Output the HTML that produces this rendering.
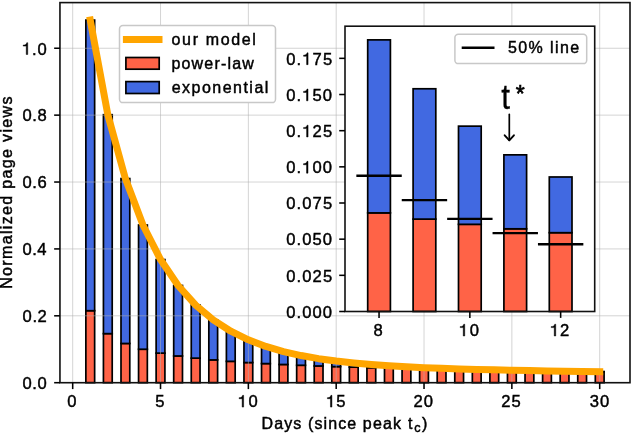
<!DOCTYPE html>
<html><head><meta charset="utf-8"><title>chart</title>
<style>html,body{margin:0;padding:0;background:#fff}body{width:632px;height:433px;overflow:hidden}</style></head>
<body>
<svg width="632" height="433" viewBox="0 0 632 433" style="display:block;will-change:transform">
<rect width="632" height="433" fill="#fff"/>
<g stroke="#000" stroke-width="1.7" stroke-linejoin="miter">
<rect x="85.86" y="310.69" width="8.78" height="72.01" fill="#ff6347"/>
<rect x="85.86" y="20.09" width="8.78" height="290.60" fill="#4169e1"/>
<rect x="103.43" y="333.62" width="8.78" height="49.08" fill="#ff6347"/>
<rect x="103.43" y="114.71" width="8.78" height="218.91" fill="#4169e1"/>
<rect x="121.00" y="343.48" width="8.78" height="39.22" fill="#ff6347"/>
<rect x="121.00" y="178.57" width="8.78" height="164.90" fill="#4169e1"/>
<rect x="138.56" y="349.25" width="8.78" height="33.45" fill="#ff6347"/>
<rect x="138.56" y="225.03" width="8.78" height="124.22" fill="#4169e1"/>
<rect x="156.13" y="353.13" width="8.78" height="29.57" fill="#ff6347"/>
<rect x="156.13" y="259.56" width="8.78" height="93.57" fill="#4169e1"/>
<rect x="173.70" y="355.97" width="8.78" height="26.73" fill="#ff6347"/>
<rect x="173.70" y="285.48" width="8.78" height="70.49" fill="#4169e1"/>
<rect x="191.26" y="358.15" width="8.78" height="24.55" fill="#ff6347"/>
<rect x="191.26" y="305.05" width="8.78" height="53.10" fill="#4169e1"/>
<rect x="208.83" y="359.90" width="8.78" height="22.80" fill="#ff6347"/>
<rect x="208.83" y="319.90" width="8.78" height="40.00" fill="#4169e1"/>
<rect x="226.40" y="361.34" width="8.78" height="21.36" fill="#ff6347"/>
<rect x="226.40" y="331.21" width="8.78" height="30.13" fill="#4169e1"/>
<rect x="243.96" y="362.55" width="8.78" height="20.15" fill="#ff6347"/>
<rect x="243.96" y="339.85" width="8.78" height="22.70" fill="#4169e1"/>
<rect x="261.53" y="363.58" width="8.78" height="19.12" fill="#ff6347"/>
<rect x="261.53" y="346.48" width="8.78" height="17.10" fill="#4169e1"/>
<rect x="279.10" y="364.48" width="8.78" height="18.22" fill="#ff6347"/>
<rect x="279.10" y="351.60" width="8.78" height="12.88" fill="#4169e1"/>
<rect x="296.67" y="365.27" width="8.78" height="17.43" fill="#ff6347"/>
<rect x="296.67" y="355.57" width="8.78" height="9.70" fill="#4169e1"/>
<rect x="314.23" y="365.97" width="8.78" height="16.73" fill="#ff6347"/>
<rect x="314.23" y="358.66" width="8.78" height="7.31" fill="#4169e1"/>
<rect x="331.80" y="366.59" width="8.78" height="16.11" fill="#ff6347"/>
<rect x="331.80" y="361.09" width="8.78" height="5.51" fill="#4169e1"/>
<rect x="349.37" y="367.16" width="8.78" height="15.54" fill="#ff6347"/>
<rect x="349.37" y="363.01" width="8.78" height="4.15" fill="#4169e1"/>
<rect x="366.93" y="367.67" width="8.78" height="15.03" fill="#ff6347"/>
<rect x="366.93" y="364.55" width="8.78" height="3.12" fill="#4169e1"/>
<rect x="384.50" y="368.14" width="8.78" height="14.56" fill="#ff6347"/>
<rect x="384.50" y="365.78" width="8.78" height="2.35" fill="#4169e1"/>
<rect x="402.07" y="368.57" width="8.78" height="14.13" fill="#ff6347"/>
<rect x="402.07" y="366.79" width="8.78" height="1.77" fill="#4169e1"/>
<rect x="419.63" y="368.96" width="8.78" height="13.74" fill="#ff6347"/>
<rect x="419.63" y="367.63" width="8.78" height="1.34" fill="#4169e1"/>
<rect x="437.20" y="369.33" width="8.78" height="13.37" fill="#ff6347"/>
<rect x="437.20" y="368.32" width="8.78" height="1.01" fill="#4169e1"/>
<rect x="454.77" y="369.67" width="8.78" height="13.03" fill="#ff6347"/>
<rect x="454.77" y="368.91" width="8.78" height="0.76" fill="#4169e1"/>
<rect x="472.34" y="369.98" width="8.78" height="12.72" fill="#ff6347"/>
<rect x="472.34" y="369.41" width="8.78" height="0.57" fill="#4169e1"/>
<rect x="489.90" y="370.28" width="8.78" height="12.42" fill="#ff6347"/>
<rect x="489.90" y="369.85" width="8.78" height="0.43" fill="#4169e1"/>
<rect x="507.47" y="370.56" width="8.78" height="12.14" fill="#ff6347"/>
<rect x="507.47" y="370.23" width="8.78" height="0.32" fill="#4169e1"/>
<rect x="525.04" y="370.82" width="8.78" height="11.88" fill="#ff6347"/>
<rect x="525.04" y="370.57" width="8.78" height="0.24" fill="#4169e1"/>
<rect x="542.60" y="371.06" width="8.78" height="11.64" fill="#ff6347"/>
<rect x="542.60" y="370.88" width="8.78" height="0.18" fill="#4169e1"/>
<rect x="560.17" y="371.29" width="8.78" height="11.41" fill="#ff6347"/>
<rect x="560.17" y="371.16" width="8.78" height="0.14" fill="#4169e1"/>
<rect x="577.74" y="371.51" width="8.78" height="11.19" fill="#ff6347"/>
<rect x="577.74" y="371.41" width="8.78" height="0.10" fill="#4169e1"/>
<rect x="595.31" y="371.72" width="8.78" height="10.98" fill="#ff6347"/>
<rect x="595.31" y="371.64" width="8.78" height="0.08" fill="#4169e1"/>
</g>
<g stroke="#b0b0b0" stroke-opacity="0.64" stroke-width="0.85">
<line x1="72.69" x2="72.69" y1="2.6" y2="382.7"/>
<line x1="160.52" x2="160.52" y1="2.6" y2="382.7"/>
<line x1="248.36" x2="248.36" y1="2.6" y2="382.7"/>
<line x1="336.19" x2="336.19" y1="2.6" y2="382.7"/>
<line x1="424.03" x2="424.03" y1="2.6" y2="382.7"/>
<line x1="511.86" x2="511.86" y1="2.6" y2="382.7"/>
<line x1="599.70" x2="599.70" y1="2.6" y2="382.7"/>
<line x1="59.95" x2="630.0" y1="382.70" y2="382.70"/>
<line x1="59.95" x2="630.0" y1="315.81" y2="315.81"/>
<line x1="59.95" x2="630.0" y1="248.92" y2="248.92"/>
<line x1="59.95" x2="630.0" y1="182.03" y2="182.03"/>
<line x1="59.95" x2="630.0" y1="115.14" y2="115.14"/>
<line x1="59.95" x2="630.0" y1="48.25" y2="48.25"/>
</g>
<polyline points="90.25,20.09 107.82,114.71 125.39,178.57 142.95,225.03 160.52,259.56 178.09,285.48 195.66,305.05 213.22,319.90 230.79,331.21 248.36,339.85 265.92,346.48 283.49,351.60 301.06,355.57 318.62,358.66 336.19,361.09 353.76,363.01 371.33,364.55 388.89,365.78 406.46,366.79 424.03,367.63 441.59,368.32 459.16,368.91 476.73,369.41 494.29,369.85 511.86,370.23 529.43,370.57 547.00,370.88 564.56,371.16 582.13,371.41 599.70,371.64" fill="none" stroke="#ffa500" stroke-width="7" stroke-linecap="square" stroke-linejoin="round"/>
<rect x="59.95" y="2.6" width="570.05" height="380.09999999999997" fill="none" stroke="#111" stroke-width="1.6"/>
<g stroke="#000" stroke-width="1.55">
<line x1="72.69" x2="72.69" y1="382.7" y2="389.1"/>
<line x1="160.52" x2="160.52" y1="382.7" y2="389.1"/>
<line x1="248.36" x2="248.36" y1="382.7" y2="389.1"/>
<line x1="336.19" x2="336.19" y1="382.7" y2="389.1"/>
<line x1="424.03" x2="424.03" y1="382.7" y2="389.1"/>
<line x1="511.86" x2="511.86" y1="382.7" y2="389.1"/>
<line x1="599.70" x2="599.70" y1="382.7" y2="389.1"/>
<line x1="54.150000000000006" x2="59.95" y1="382.70" y2="382.70"/>
<line x1="54.150000000000006" x2="59.95" y1="315.81" y2="315.81"/>
<line x1="54.150000000000006" x2="59.95" y1="248.92" y2="248.92"/>
<line x1="54.150000000000006" x2="59.95" y1="182.03" y2="182.03"/>
<line x1="54.150000000000006" x2="59.95" y1="115.14" y2="115.14"/>
<line x1="54.150000000000006" x2="59.95" y1="48.25" y2="48.25"/>
</g>
<g style="font-family:'Liberation Sans',sans-serif;font-size:16px;fill:#000;stroke:#000;stroke-width:0.45px">
<text x="22.62" y="388.95" style="font-size:16.6px;letter-spacing:0.475px">0.0</text>
<text x="22.62" y="322.06" style="font-size:16.6px;letter-spacing:0.538px">0.2</text>
<text x="22.62" y="255.17" style="font-size:16.6px;letter-spacing:0.350px">0.4</text>
<text x="22.62" y="188.28" style="font-size:16.6px;letter-spacing:0.475px">0.6</text>
<text x="22.62" y="121.39" style="font-size:16.6px;letter-spacing:0.475px">0.8</text>
<text x="21.96" y="54.50" style="font-size:16.6px;letter-spacing:0.806px"><tspan style="fill:none;stroke:none">1</tspan>.0</text>
<path d="M4.144 -8.08 L4.144 0 L5.552 0 L5.552 -11.344 L4.624 -11.344 C4.128 -9.6 3.6 -9.3 1.2 -9.088 L1.2 -8.08 Z" transform="translate(21.96,54.50) scale(1.0375)"/>
<text x="67.31" y="407.10" style="font-size:16.6px;letter-spacing:0.000px">0</text>
<text x="155.14" y="407.10" style="font-size:16.6px;letter-spacing:0.000px">5</text>
<text x="237.86" y="407.10" style="font-size:16.6px;letter-spacing:1.337px"><tspan style="fill:none;stroke:none">1</tspan>0</text>
<path d="M4.144 -8.08 L4.144 0 L5.552 0 L5.552 -11.344 L4.624 -11.344 C4.128 -9.6 3.6 -9.3 1.2 -9.088 L1.2 -8.08 Z" transform="translate(237.86,407.10) scale(1.0375)"/>
<text x="326.16" y="407.10" style="font-size:16.6px;letter-spacing:0.737px"><tspan style="fill:none;stroke:none">1</tspan>5</text>
<path d="M4.144 -8.08 L4.144 0 L5.552 0 L5.552 -11.344 L4.624 -11.344 C4.128 -9.6 3.6 -9.3 1.2 -9.088 L1.2 -8.08 Z" transform="translate(326.16,407.10) scale(1.0375)"/>
<text x="413.38" y="407.10" style="font-size:16.6px;letter-spacing:1.125px">20</text>
<text x="501.18" y="407.10" style="font-size:16.6px;letter-spacing:1.125px">25</text>
<text x="589.83" y="407.10" style="font-size:16.6px;letter-spacing:0.975px">30</text>
<text x="261.57" y="428.60" style="letter-spacing:1.107px">Days (since peak</text>
<text x="407.95" y="428.60" style="letter-spacing:0.000px">t</text>
<text x="422.04" y="428.60" style="letter-spacing:0.000px">)</text>
<text x="414.3" y="432.1" style="font-size:12.6px">c</text>
<text transform="translate(12.0,288.80) rotate(-90)" style="letter-spacing:1.341px">Normalized page views</text>
</g>
<rect x="119.5" y="25.6" width="156.0" height="77.0" rx="3.4" fill="#fff" stroke="#c8c8c8" stroke-width="1.5"/>
<line x1="126.3" x2="159.1" y1="39.5" y2="39.5" stroke="#ffa500" stroke-width="6.8" stroke-linecap="square"/>
<rect x="125.9" y="57.5" width="33.3" height="11.7" fill="#ff6347" stroke="#000" stroke-width="1.7"/>
<rect x="125.9" y="81.6" width="33.3" height="11.9" fill="#4169e1" stroke="#000" stroke-width="1.7"/>
<g style="font-family:'Liberation Sans',sans-serif;font-size:16px;fill:#000;stroke:#000;stroke-width:0.45px">
<text x="171.60" y="45.10" style="letter-spacing:1.631px">our model</text>
<text x="171.45" y="69.00" style="letter-spacing:1.188px">power-law</text>
<text x="171.70" y="92.70" style="letter-spacing:1.480px">exponential</text>
</g>
<rect x="345.0" y="26.2" width="249.70000000000005" height="285.3" fill="#fff"/>
<g stroke="#000" stroke-width="1.7">
<rect x="367.70" y="212.88" width="22.70" height="98.62" fill="#ff6347"/>
<rect x="367.70" y="39.87" width="22.70" height="173.01" fill="#4169e1"/>
<rect x="413.10" y="219.09" width="22.70" height="92.41" fill="#ff6347"/>
<rect x="413.10" y="88.77" width="22.70" height="130.33" fill="#4169e1"/>
<rect x="458.50" y="224.32" width="22.70" height="87.18" fill="#ff6347"/>
<rect x="458.50" y="126.15" width="22.70" height="98.17" fill="#4169e1"/>
<rect x="503.90" y="228.80" width="22.70" height="82.70" fill="#ff6347"/>
<rect x="503.90" y="154.85" width="22.70" height="73.95" fill="#4169e1"/>
<rect x="549.30" y="232.69" width="22.70" height="78.81" fill="#ff6347"/>
<rect x="549.30" y="176.98" width="22.70" height="55.71" fill="#4169e1"/>
</g>
<g stroke="#000" stroke-width="2.4">
<line x1="356.35" x2="401.75" y1="175.68" y2="175.68"/>
<line x1="401.75" x2="447.15" y1="200.13" y2="200.13"/>
<line x1="447.15" x2="492.55" y1="218.83" y2="218.83"/>
<line x1="492.55" x2="537.95" y1="233.17" y2="233.17"/>
<line x1="537.95" x2="583.35" y1="244.24" y2="244.24"/>
</g>
<rect x="345.0" y="26.2" width="249.70000000000005" height="285.3" fill="none" stroke="#111" stroke-width="1.6"/>
<g stroke="#000" stroke-width="1.55">
<line x1="379.05" x2="379.05" y1="311.5" y2="317.90000000000003"/>
<line x1="469.85" x2="469.85" y1="311.5" y2="317.90000000000003"/>
<line x1="560.65" x2="560.65" y1="311.5" y2="317.90000000000003"/>
<line x1="339.2" x2="345.0" y1="311.50" y2="311.50"/>
<line x1="339.2" x2="345.0" y1="275.33" y2="275.33"/>
<line x1="339.2" x2="345.0" y1="239.17" y2="239.17"/>
<line x1="339.2" x2="345.0" y1="203.00" y2="203.00"/>
<line x1="339.2" x2="345.0" y1="166.84" y2="166.84"/>
<line x1="339.2" x2="345.0" y1="130.68" y2="130.68"/>
<line x1="339.2" x2="345.0" y1="94.51" y2="94.51"/>
<line x1="339.2" x2="345.0" y1="58.34" y2="58.34"/>
</g>
<g style="font-family:'Liberation Sans',sans-serif;font-size:16px;fill:#000;stroke:#000;stroke-width:0.45px">
<text x="373.42" y="336.00" style="font-size:16.6px;letter-spacing:0.000px">8</text>
<text x="458.96" y="336.00" style="font-size:16.6px;letter-spacing:1.638px"><tspan style="fill:none;stroke:none">1</tspan>0</text>
<path d="M4.144 -8.08 L4.144 0 L5.552 0 L5.552 -11.344 L4.624 -11.344 C4.128 -9.6 3.6 -9.3 1.2 -9.088 L1.2 -8.08 Z" transform="translate(458.96,336.00) scale(1.0375)"/>
<text x="549.96" y="336.00" style="font-size:16.6px;letter-spacing:0.863px"><tspan style="fill:none;stroke:none">1</tspan>2</text>
<path d="M4.144 -8.08 L4.144 0 L5.552 0 L5.552 -11.344 L4.624 -11.344 C4.128 -9.6 3.6 -9.3 1.2 -9.088 L1.2 -8.08 Z" transform="translate(549.96,336.00) scale(1.0375)"/>
<text x="286.32" y="317.80" style="font-size:16.6px;letter-spacing:1.038px">0.000</text>
<text x="286.32" y="281.63" style="font-size:16.6px;letter-spacing:1.069px">0.025</text>
<text x="286.32" y="245.47" style="font-size:16.6px;letter-spacing:1.038px">0.050</text>
<text x="286.32" y="209.31" style="font-size:16.6px;letter-spacing:1.069px">0.075</text>
<text x="286.32" y="173.14" style="font-size:16.6px;letter-spacing:1.038px">0.<tspan style="fill:none;stroke:none">1</tspan>00</text>
<path d="M4.144 -8.08 L4.144 0 L5.552 0 L5.552 -11.344 L4.624 -11.344 C4.128 -9.6 3.6 -9.3 1.2 -9.088 L1.2 -8.08 Z" transform="translate(302.24,173.14) scale(1.0375)"/>
<text x="286.32" y="136.98" style="font-size:16.6px;letter-spacing:1.069px">0.<tspan style="fill:none;stroke:none">1</tspan>25</text>
<path d="M4.144 -8.08 L4.144 0 L5.552 0 L5.552 -11.344 L4.624 -11.344 C4.128 -9.6 3.6 -9.3 1.2 -9.088 L1.2 -8.08 Z" transform="translate(302.31,136.98) scale(1.0375)"/>
<text x="286.32" y="100.81" style="font-size:16.6px;letter-spacing:1.038px">0.<tspan style="fill:none;stroke:none">1</tspan>50</text>
<path d="M4.144 -8.08 L4.144 0 L5.552 0 L5.552 -11.344 L4.624 -11.344 C4.128 -9.6 3.6 -9.3 1.2 -9.088 L1.2 -8.08 Z" transform="translate(302.24,100.81) scale(1.0375)"/>
<text x="286.32" y="64.64" style="font-size:16.6px;letter-spacing:1.069px">0.<tspan style="fill:none;stroke:none">1</tspan>75</text>
<path d="M4.144 -8.08 L4.144 0 L5.552 0 L5.552 -11.344 L4.624 -11.344 C4.128 -9.6 3.6 -9.3 1.2 -9.088 L1.2 -8.08 Z" transform="translate(302.31,64.64) scale(1.0375)"/>
</g>
<rect x="454.9" y="34.2" width="131.8" height="29.4" rx="3.4" fill="#fff" stroke="#c8c8c8" stroke-width="1.5"/>
<line x1="461.7" x2="494.5" y1="47.8" y2="47.8" stroke="#000" stroke-width="2.4"/>
<g style="font-family:'Liberation Sans',sans-serif;font-size:16px;fill:#000;stroke:#000;stroke-width:0.45px">
<text x="507.93" y="53.20" style="letter-spacing:1.414px">50% line</text>
</g>
<g style="font-family:'Liberation Sans',sans-serif;fill:#000;stroke:#000;stroke-width:0.3">
<text transform="translate(501.3,109.3) scale(0.9,1)" style="font-size:35px">t</text>
<text x="515.7" y="101.8" style="font-size:23px;stroke-width:0.65">*</text>
</g>
<g stroke="#000" stroke-width="1.7" fill="none" stroke-linecap="round" stroke-linejoin="round"><line x1="509.3" x2="509.3" y1="114.4" y2="140.2"/><polyline stroke-width="1.9" points="504.7,135.3 509.3,140.4 513.9,135.3"/></g>
</svg>
</body></html>
